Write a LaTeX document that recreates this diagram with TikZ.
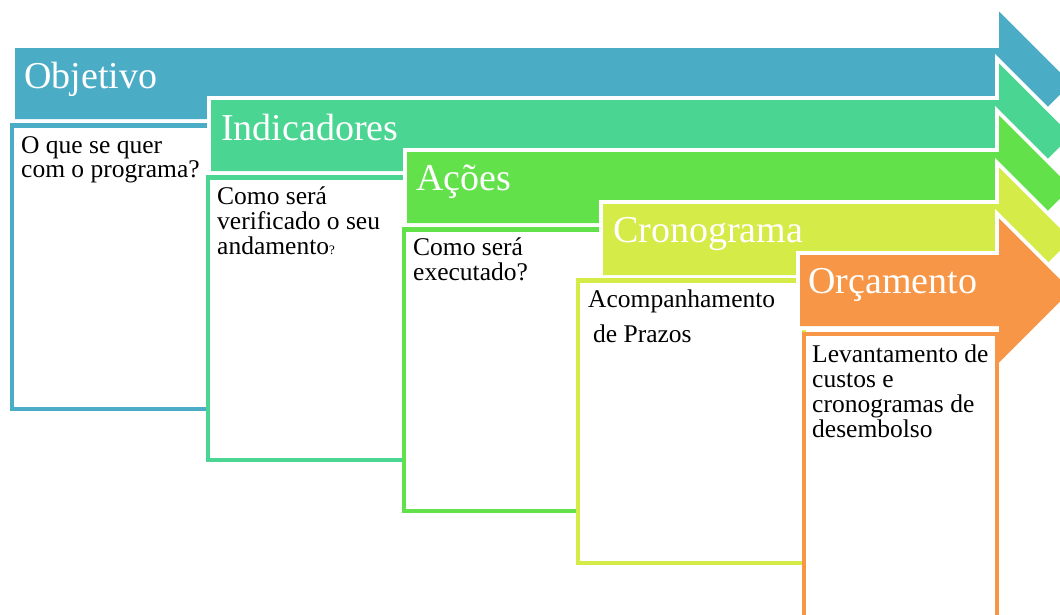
\documentclass[tikz,border=0pt]{standalone}
\usepackage{fontspec}
\setmainfont{Liberation Serif}
\definecolor{cblue}{HTML}{4BACC6}
\definecolor{cteal}{HTML}{4AD592}
\definecolor{cgreen}{HTML}{62E14A}
\definecolor{cyellow}{HTML}{D5EB48}
\definecolor{corange}{HTML}{F79646}
\tikzset{
  halo/.style={draw=white, line width=8pt, line join=miter},
  boxframe/.style={line width=4.5pt, fill=white},
  title/.style={anchor=base west, inner sep=0pt, text=white, font=\fontsize{38}{40}\selectfont},
  body/.style={anchor=base west, inner sep=0pt, align=left, text=black, font=\fontsize{25.5}{25}\selectfont},
}
% #1 left, #2 top, #3 colour
\newcommand{\procarrow}[3]{%
  \pgfmathsetmacro{\pB}{#2+71}%
  \pgfmathsetmacro{\pC}{#2+35.5}%
  \pgfmathsetmacro{\pHt}{\pC-72}%
  \pgfmathsetmacro{\pHb}{\pC+72}%
  \path[halo] (#1,#2) -- (999,#2) -- (999,\pHt) -- (1071,\pC) -- (999,\pHb) -- (999,\pB) -- (#1,\pB) -- cycle;
  \fill[#3] (#1,#2) -- (999,#2) -- (999,\pHt) -- (1071,\pC) -- (999,\pHb) -- (999,\pB) -- (#1,\pB) -- cycle;
}
\begin{document}
\begin{tikzpicture}[x=1pt, y=-1pt]
\useasboundingbox (0,0) rectangle (1060,614);
\clip (0,0) rectangle (1060,614);
\fill[white] (0,0) rectangle (1060,614);

% Objetivo
\procarrow{15}{48}{cblue}
\draw[boxframe, draw=cblue] (12,125.5) rectangle (300,409);
\node[title] (t1) at (24,88) {Objetivo};
\node[body, font=\fontsize{25.5}{24}\selectfont] (b1) at (21,177) {O que se quer\\com o programa?};

% Indicadores
\procarrow{211}{100}{cteal}
\draw[boxframe, draw=cteal] (208,177.5) rectangle (500,460);
\node[title] (t2) at (221,140) {Indicadores};
\node[body] (b2) at (217,254) {Como será\\verificado o seu\\andamento{\fontsize{13}{13}\selectfont ?}};

% Ações
\procarrow{407}{152}{cgreen}
\draw[boxframe, draw=cgreen] (404,229.5) rectangle (620,511);
\node[title] (t3) at (416,190) {Ações};
\node[body] (b3) at (413,280) {Como será\\executado?};

% Cronograma
\procarrow{603}{204}{cyellow}
\draw[boxframe, draw=cyellow] (578,280.5) rectangle (804,563);
\node[title] (t4) at (613,242) {Cronograma};
\node[body] (b4) at (588,342) {Acompanhamento\\[10pt]\hspace{5pt}de Prazos};

% Orçamento
\procarrow{800}{255}{corange}
\draw[boxframe, draw=corange] (804,334) rectangle (997,700);
\node[title] (t5) at (808,293) {Orçamento};
\node[body] (b5) at (812,437) {Levantamento de\\custos e\\cronogramas de\\desembolso};
\end{tikzpicture}
\end{document}
